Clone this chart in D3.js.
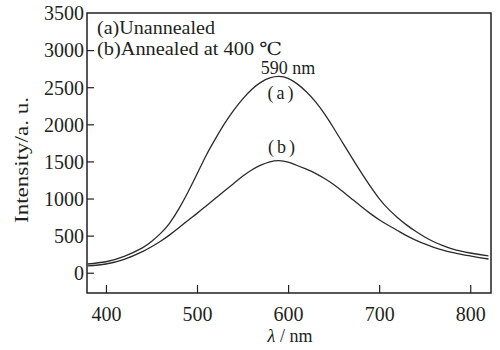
<!DOCTYPE html>
<html>
<head>
<meta charset="utf-8">
<script src="https://cdn.jsdelivr.net/npm/d3@7"></script>
<style>
  html, body { margin: 0; padding: 0; background: #fff; }
  svg { display: block; }
  svg text { font-family: "Liberation Serif", "Times New Roman", Times, "DejaVu Serif", serif !important; fill: #231f20; }
</style>
</head>
<body>
<svg id="chart" width="500" height="350"></svg>
<script>
// ---- data ----
const wavelengths = [380,400,420,440,450,460,470,480,490,500,510,520,530,540,550,560,570,580,590,600,610,620,630,640,650,660,670,680,690,700,710,720,730,740,750,760,770,780,790,800,810,820];
const unannealed  = [118,148,220,335,420,530,670,860,1085,1330,1580,1800,2005,2185,2340,2470,2565,2625,2645,2620,2545,2440,2305,2140,1950,1750,1550,1355,1170,1000,860,745,645,558,482,418,365,322,290,266,246,228];
const annealed    = [92,118,180,285,350,425,510,605,705,800,900,1000,1100,1200,1300,1385,1450,1495,1510,1490,1445,1395,1340,1270,1190,1095,995,895,800,715,640,570,500,440,388,343,305,274,248,226,205,185];
const xTicks = [400,500,600,700,800];
const yTicks = [0,500,1000,1500,2000,2500,3000,3500];
const legendLines = ["(a)Unannealed", "(b)Annealed at 400 \u2103"];
const peakLabel = "590 nm";
const curveLabels = ["(a)", "(b)"];

// ---- layout ----
const FONT = '"Liberation Serif", "Times New Roman", Times, "DejaVu Serif", serif';
const svg = d3.select("#chart");
const L = 87, R = 491, T = 13, B = 293;
const x = d3.scaleLinear().domain([379.2, 822.8]).range([L, R]);
const y = d3.scaleLinear().domain([-273, 3500]).range([B, T]);

// axes (ticks inside)
const gx = svg.append("g").attr("transform", `translate(0,${B})`)
  .call(d3.axisBottom(x).tickValues(xTicks).tickSize(-8).tickPadding(14).tickFormat(d3.format("d")));
const gy = svg.append("g").attr("transform", `translate(${L},0)`)
  .call(d3.axisLeft(y).tickValues(yTicks).tickSize(-7).tickPadding(3).tickFormat(d3.format("d")));
[gx, gy].forEach(g => {
  g.attr("font-family", FONT);
  g.select(".domain").remove();
  g.selectAll(".tick line").attr("stroke", "#231f20").attr("stroke-width", 1.2);
  g.selectAll(".tick text").attr("font-size", 20).attr("font-family", FONT).attr("fill", "#231f20");
});
gy.selectAll(".tick text").attr("dy", "0.34em");
gx.selectAll(".tick text").attr("dy", "0.71em");
gy.selectAll(".tick").filter(d => d === 3500).select("line").remove();

// curves
const line = d3.line().x((d, i) => x(wavelengths[i])).y(d => y(d)).curve(d3.curveNatural);
svg.append("defs").append("clipPath").attr("id", "clip")
  .append("rect").attr("x", L).attr("y", T).attr("width", R - L).attr("height", B - T);
[unannealed, annealed].forEach(s => {
  svg.append("path").datum(s).attr("d", line).attr("fill", "none")
    .attr("stroke", "#2a2a2a").attr("stroke-width", 1.3).attr("clip-path", "url(#clip)");
});

// frame
svg.append("rect").attr("x", L).attr("y", T).attr("width", R - L).attr("height", B - T)
  .attr("fill", "none").attr("stroke", "#231f20").attr("stroke-width", 1.5);

const txt = (xx, yy) => svg.append("text").attr("x", xx).attr("y", yy).attr("font-size", 18).attr("font-family", FONT);

// legend text
txt(97, 34).attr("textLength", 118).attr("lengthAdjust", "spacingAndGlyphs").text(legendLines[0]);
txt(97, 55).attr("textLength", 185).attr("lengthAdjust", "spacingAndGlyphs").text(legendLines[1]);

// annotations
txt(288, 74).attr("text-anchor", "middle").text(peakLabel);
txt(282, 99).attr("text-anchor", "middle").attr("letter-spacing", 3).text(curveLabels[0]);
txt(283, 153).attr("text-anchor", "middle").attr("letter-spacing", 3).text(curveLabels[1]);

// axis titles
const xt = txt(290, 342).attr("text-anchor", "middle");
xt.append("tspan").attr("font-style", "italic").text("\u03bb");
xt.append("tspan").text(" / nm");
svg.append("text").attr("transform", "translate(28,160) rotate(-90)").attr("font-size", 18).attr("font-family", FONT)
  .attr("text-anchor", "middle").attr("textLength", 126).attr("lengthAdjust", "spacingAndGlyphs")
  .text("Intensity/a. u.");
</script>
</body>
</html>
